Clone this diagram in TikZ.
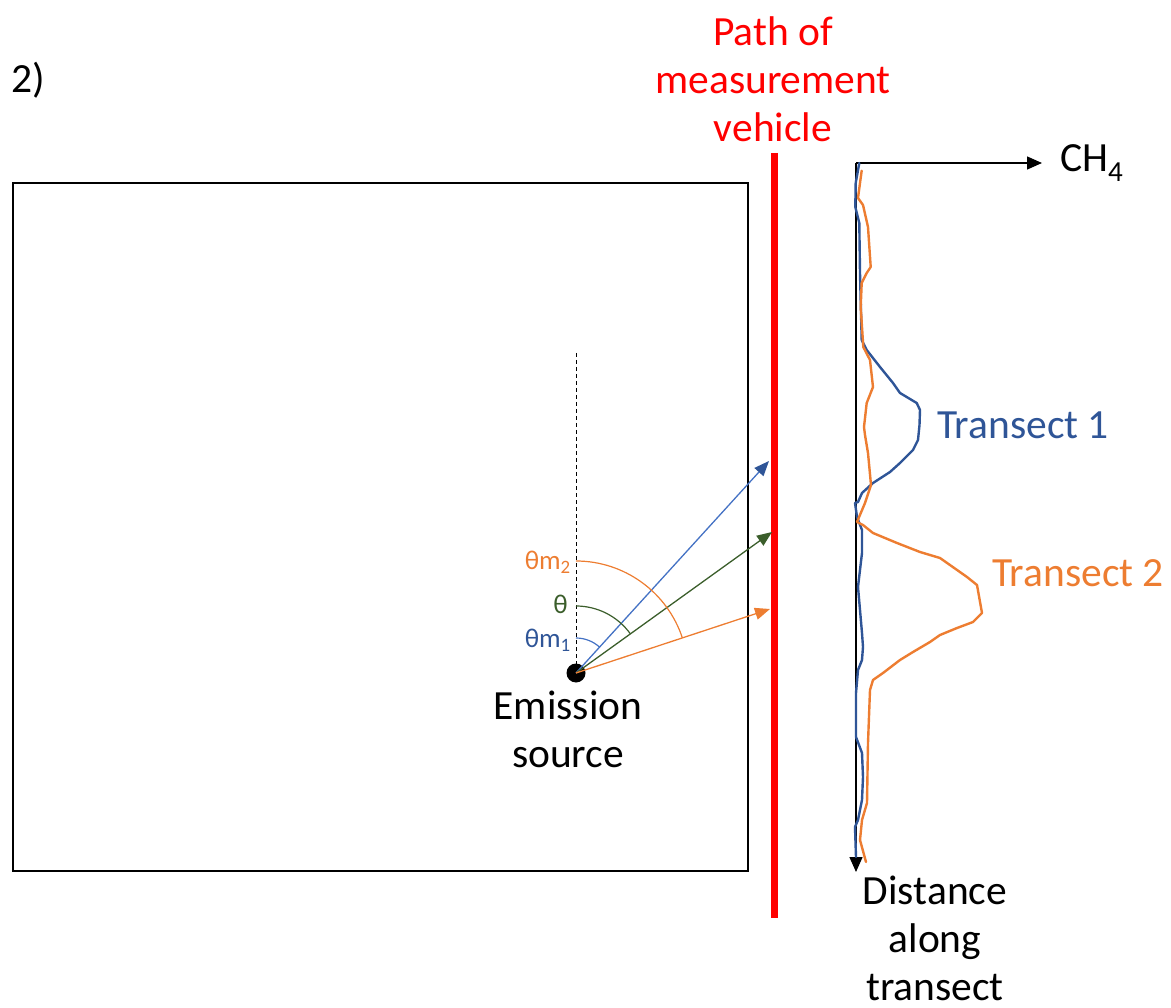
\documentclass[tikz,border=0pt]{standalone}
\usepackage{fontspec}
\setmainfont{Carlito}
\usetikzlibrary{arrows.meta}
\definecolor{tblue}{HTML}{2F5597}
\definecolor{lblue}{HTML}{4472C4}
\definecolor{torange}{HTML}{ED7D31}
\definecolor{tgreen}{HTML}{3B5E2B}
\definecolor{vred}{HTML}{FF0000}
\begin{document}
\begin{tikzpicture}[x=1pt,y=-1pt,
  bigtext/.style={font=\fontsize{41.5}{48}\selectfont, inner sep=0pt, align=center},
  angtext/.style={font=\fontsize{27}{30}\selectfont, inner sep=0pt, anchor=east},
  ray/.style={line width=1.3pt, -{Triangle[length=15pt,width=12pt]}},
  angarc/.style={line width=1.2pt},
  curve/.style={line width=2.4pt, line join=round, line cap=round},
  axis/.style={line width=1.4pt, black, -{Triangle[length=15pt,width=13pt]}}]
\useasboundingbox (0,0) rectangle (1171,1008);
% title
\node[bigtext, anchor=west] (title) at (11,80) {2)};
% box
\node[draw, line width=2pt, minimum width=735pt, minimum height=688pt, inner sep=0pt] (box) at (380.5,527) {};
% vehicle path
\coordinate (vtop) at (774,153);
\coordinate (vbot) at (774,918);
\draw[vred, line width=7pt] (vtop) -- (vbot);
\node[bigtext, text=vred] (vlabel) at (773,79) {Path of\\measurement\\vehicle};
% source
\coordinate (src) at (576,673);
\coordinate (dtop) at (576,353);
\draw[line width=1pt, dash pattern=on 4pt off 3pt] (dtop) -- (src);
\node[circle, fill=black, minimum size=19pt, inner sep=0pt] (dot) at (src) {};
\node[bigtext] (srclabel) at (568,729) {Emission\\source};
% rays
\coordinate (bend) at (769,461);
\coordinate (gend) at (772,532);
\coordinate (oend) at (770,609);
\draw[line width=1.3pt, lblue, -{Triangle[length=15pt,width=12pt,color=tblue]}] (src) -- (bend);
\draw[ray, tgreen] (src) -- (gend);
\draw[ray, torange] (src) -- (oend);
% angle arcs
\draw[angarc, lblue] (576,638) arc[start angle=-90, end angle=-47.7, radius=35];
\draw[angarc, tgreen] (576,606) arc[start angle=-90, end angle=-35.7, radius=67];
\draw[angarc, torange] (576,561) arc[start angle=-90, end angle=-18.3, radius=112];
\node[angtext, text=torange] (thm2) at (571,562) {θm\textsubscript{2}};
\node[angtext, text=tgreen] (th) at (568,604) {θ};
\node[angtext, text=tblue] (thm1) at (571,640) {θm\textsubscript{1}};
% axes
\coordinate (org) at (856,163);
\coordinate (xend) at (1042,163);
\coordinate (yend) at (856,872);
\draw[axis] (org) -- (xend);
\draw[axis] (org) -- (yend);
\node[bigtext, anchor=west] (ch4) at (1060,163) {CH\textsubscript{4}};
\node[bigtext] (dist) at (935,938) {Distance\\along\\transect};
% transect curves
\draw[curve, tblue] (859.3,163) -- (855.7,183) -- (855.3,207) -- (859.3,223) -- (860,273) -- (861.7,340) -- (866.7,350) -- (880,367) -- (893,383) -- (900,393) -- (916.7,403) -- (920,410) -- (919.5,425) -- (918,440) -- (913,450) -- (900,463) -- (890,472) -- (873,483) -- (862,493) -- (858,502) -- (855,503) -- (857,517) -- (862,530) -- (862,553) -- (858,587) -- (862,633) -- (863,647) -- (862,660) -- (858,670) -- (856,693) -- (856,737) -- (862,753) -- (863,777) -- (862,800) -- (858,820) -- (855,827) -- (856,857);
\draw[curve, torange] (861.7,170.7) -- (860,183) -- (858,198) -- (863,205) -- (868,227) -- (870.7,267) -- (866.7,273) -- (861.7,283) -- (860.7,307) -- (863.3,347) -- (870,360) -- (873,387) -- (866.7,403) -- (864,427) -- (865,435) -- (868,453) -- (871,485) -- (865,503) -- (857,522) -- (863,525) -- (873,533) -- (897,543) -- (920,552) -- (940,558) -- (967,577) -- (977,585) -- (982,613) -- (973,622) -- (957,628) -- (940,635) -- (930,642) -- (913,652) -- (900,660) -- (883,673) -- (873,680) -- (870,690) -- (868,743) -- (867,803) -- (862,820) -- (860,840) -- (866,862);
\node[bigtext, anchor=west, text=tblue] (t1) at (937,425) {Transect 1};
\node[bigtext, anchor=west, text=torange] (t2) at (992,573) {Transect 2};
\end{tikzpicture}
\end{document}
